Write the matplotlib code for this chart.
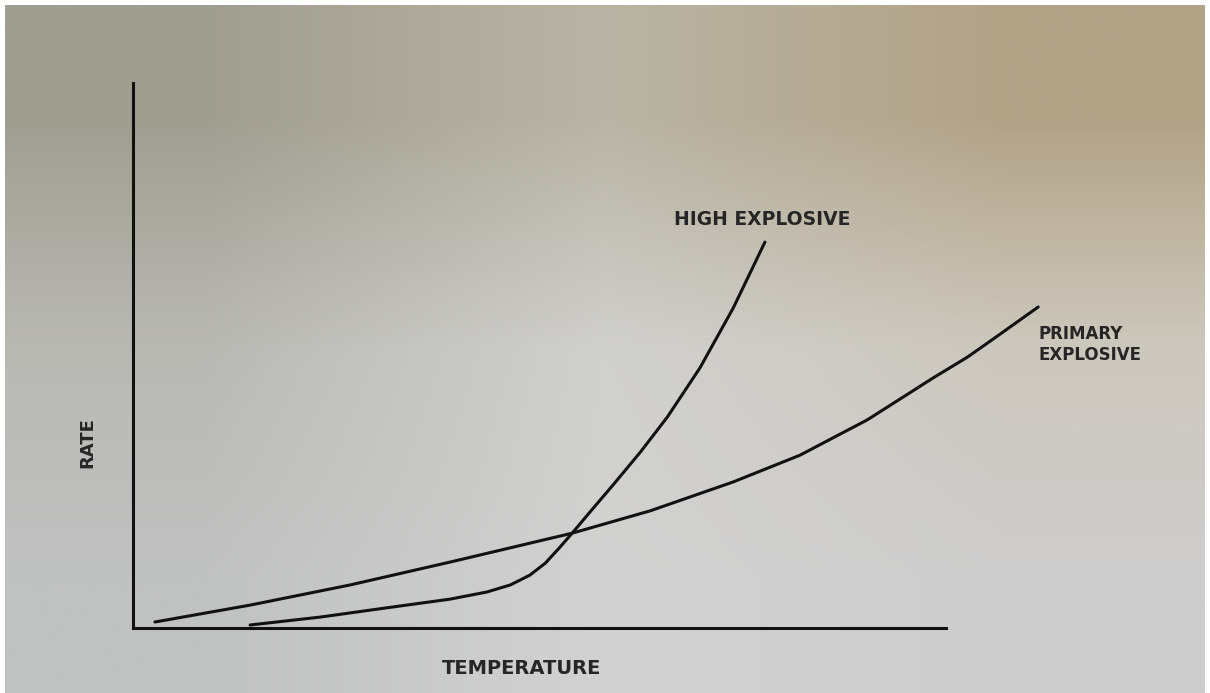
import numpy as np
import matplotlib.pyplot as plt

# curves (temperature, rate in arbitrary units, 0..100 on the drawn axes)
primary_T = [2.7, 14.4, 26.7, 39.0, 54.0, 63.6, 73.8, 82.0, 90.3, 98.4, 102.6, 106.6, 111.3]
primary_R = [1.1, 4.2, 7.9, 12.1, 17.4, 21.5, 26.8, 31.7, 38.2, 45.9, 49.7, 53.9, 58.9]

high_T = [14.4, 23.0, 31.2, 39.0, 43.5, 46.4, 48.8, 50.7, 52.3, 54.0, 56.2, 59.0,
          62.4, 65.7, 69.7, 73.8, 77.7]
high_R = [0.55, 2.0, 3.7, 5.3, 6.6, 7.9, 9.7, 11.9, 14.5, 17.4, 21.3, 26.2,
          32.3, 38.7, 47.7, 58.7, 70.8]

x_label = 'TEMPERATURE'
y_label = 'RATE'
high_label = 'HIGH EXPLOSIVE'
primary_label = 'PRIMARY\nEXPLOSIVE'

# paper tone (photo of a page), corner/middle colours
paper = np.array([[[160, 158, 145], [185, 180, 165], [178, 163, 135]],
                  [[185, 185, 180], [208, 208, 205], [205, 200, 190]],
                  [[192, 193, 193], [210, 210, 210], [205, 205, 205]]]) / 255.

fig = plt.figure(figsize=(12.1, 6.93), dpi=100, facecolor='white')

bg = fig.add_axes([5/1210, 0, 1200/1210, 688/693])
bg.imshow(paper, aspect='auto', interpolation='bilinear', extent=[0, 1, 0, 1])
bg.axis('off')

ax = fig.add_axes([133/1210, 65/693, 919/1210, 545/693])
ax.patch.set_alpha(0)
ink = '#111111'
lw = 2.2

ax.plot(primary_T, primary_R, color=ink, lw=lw, solid_capstyle='round',
        solid_joinstyle='round')
ax.plot(high_T, high_R, color=ink, lw=lw, solid_capstyle='round',
        solid_joinstyle='round')

ax.set_xlim(0, 113)
ax.set_ylim(0, 100)
for s in ['top', 'right']:
    ax.spines[s].set_visible(False)
for s in ['left', 'bottom']:
    ax.spines[s].set_linewidth(lw)
    ax.spines[s].set_color(ink)
ax.spines['bottom'].set_bounds(0, 100)
ax.set_xticks([])
ax.set_yticks([])

txt = dict(color='#262626', family='DejaVu Sans', fontweight='bold')
ax.text(77.4, 75.0, high_label, fontsize=13.5, ha='center', va='center', **txt)
ax.text(111.4, 55.6, primary_label, fontsize=12, ha='left', va='top',
        linespacing=1.2, **txt)
ax.set_xlabel(x_label, fontsize=14, **txt)
ax.xaxis.set_label_coords(0.423, -0.057)
ax.set_ylabel(y_label, fontsize=13, **txt)
ax.yaxis.set_label_coords(-0.04, 0.341)

plt.savefig('out.png', dpi=100, facecolor=fig.get_facecolor())
